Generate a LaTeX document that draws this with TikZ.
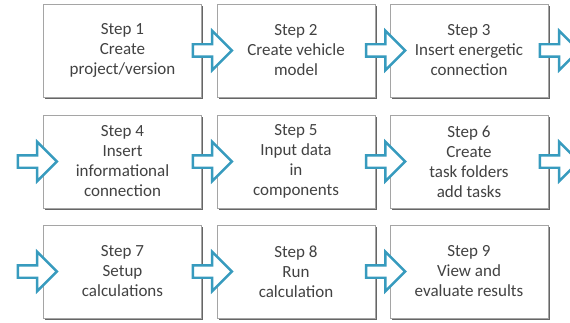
\documentclass[tikz,border=0pt]{standalone}
\usepackage{fontspec}
\setmainfont{Carlito}
\usetikzlibrary{shapes.arrows,shadows}
\definecolor{steptext}{RGB}{66,66,66}
\definecolor{stepline}{RGB}{165,165,165}
\definecolor{arrowblue}{RGB}{55,155,190}
\tikzset{
  stepbox/.style={draw=stepline, fill=white, minimum width=158pt, minimum height=93pt,
    align=center, text=steptext, font=\fontsize{17}{20}\selectfont,
    drop shadow={shadow xshift=1.5pt, shadow yshift=-2.2pt, fill=black!75, opacity=.8}},
  blockarrow/.style={single arrow, draw=arrowblue, line width=2.4pt, fill=white,
    minimum height=39pt, inner xsep=0pt, inner ysep=5pt,
    single arrow head extend=13.5pt, single arrow head indent=0pt}
}
\begin{document}
\begin{tikzpicture}[x=1pt, y=1pt]
        \useasboundingbox (0,0) rectangle (570,322);
        \clip (0,0) rectangle (570,322);

        \node[stepbox] (s1) at (122.5,271.5) {Step 1\\Create\\project/version};
        \node[stepbox] (s2) at (296,271.5) {Step 2\\Create vehicle\\model};
        \node[stepbox] (s3) at (469,271.5) {Step 3\\Insert energetic\\connection};

        \node[stepbox] (s4) at (122.5,160.5) {Step 4\\Insert\\informational\\connection};
        \node[stepbox] (s5) at (296,160.5) {Step 5\\Input data\\in\\components};
        \node[stepbox] (s6) at (469,160.5) {Step 6\\Create\\task folders\\add tasks};

        \node[stepbox] (s7) at (122.5,50.5) {Step 7\\Setup\\calculations};
        \node[stepbox] (s8) at (296,50.5) {Step 8\\Run\\calculation};
        \node[stepbox] (s9) at (469,50.5) {Step 9\\View and\\evaluate results};

        % arrows between the steps
        \path (s1) -- node[blockarrow] (a12) {} (s2);
        \path (s2) -- node[blockarrow] (a23) {} (s3);
        \path (s4) -- node[blockarrow] (a45) {} (s5);
        \path (s5) -- node[blockarrow] (a56) {} (s6);
        \path (s7) -- node[blockarrow] (a78) {} (s8);
        \path (s8) -- node[blockarrow] (a89) {} (s9);

        % row ends
        \node[blockarrow] (out3) at ([xshift=8pt]s3.east) {};
        \node[blockarrow] (out6) at ([xshift=8pt]s6.east) {};
        \node[blockarrow] (in4) at ([xshift=-9pt]s4.west) {};
        \node[blockarrow] (in7) at ([xshift=-9pt]s7.west) {};
    \end{tikzpicture}
\end{document}
